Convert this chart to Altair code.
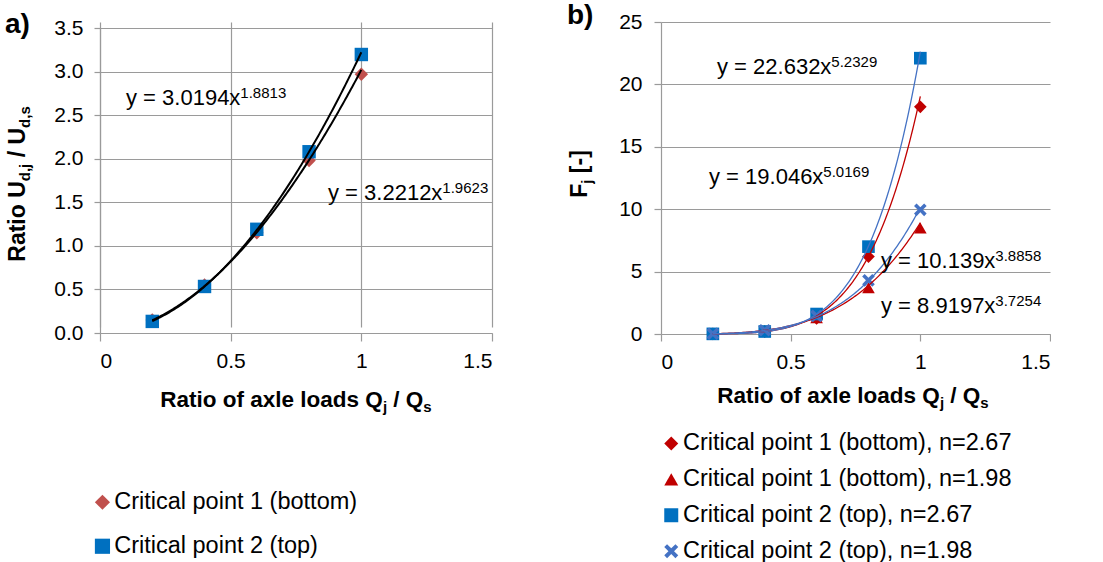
import altair as alt
import pandas as pd

FONT = "Liberation Sans"

# ---------------- data ----------------
x_vals = [0.2, 0.4, 0.6, 0.8, 1.0]

a_series = ["Critical point 1 (bottom)", "Critical point 2 (top)"]
a_cp1 = [0.15, 0.55, 1.15, 1.98, 2.97]
a_cp2 = [0.133, 0.534, 1.19, 2.08, 3.196]
a_fit_coef = [3.0194, 3.2212]
a_fit_exp = [1.8813, 1.9623]
a_colors = ["#C0504D", "#0070C0"]

b_series = [
    "Critical point 1 (bottom), n=2.67",
    "Critical point 1 (bottom), n=1.98",
    "Critical point 2 (top), n=2.67",
    "Critical point 2 (top), n=1.98",
]
b_cp1_267 = [0.01, 0.19, 1.25, 6.2, 18.2]
b_cp1_198 = [0.02, 0.29, 1.3, 3.7, 8.5]
b_cp2_267 = [0.01, 0.2, 1.6, 7.0, 22.1]
b_cp2_198 = [0.02, 0.3, 1.45, 4.3, 9.95]
b_fit_coef = [19.046, 8.9197, 22.632, 10.139]
b_fit_exp = [5.0169, 3.7254, 5.2329, 3.8858]
b_colors = ["#C00000", "#C00000", "#0070C0", "#4472C4"]
b_line_colors = ["#C00000", "#C00000", "#4472C4", "#4472C4"]

a_x_ticks = [0, 0.5, 1, 1.5]
a_y_ticks = [0, 0.5, 1, 1.5, 2, 2.5, 3, 3.5]
b_x_ticks = [0, 0.5, 1, 1.5]
b_y_ticks = [0, 5, 10, 15, 20, 25]

X_PATH = "M-1,-0.6L-0.6,-1L0,-0.4L0.6,-1L1,-0.6L0.4,0L1,0.6L0.6,1L0,0.4L-0.6,1L-1,0.6L-0.4,0Z"

# ---------------- text metrics (Arial / Liberation Sans) ----------------
REG = {' ': 278, '(': 333, ')': 333, ',': 278, '-': 333, '.': 278, '/': 278, '=': 584,
       '[': 278, ']': 278, 'a': 556, 'b': 556, 'c': 500, 'd': 556, 'e': 556, 'f': 278,
       'i': 222, 'j': 222, 'l': 222, 'm': 833, 'n': 556, 'o': 556, 'p': 556, 'r': 333,
       's': 500, 't': 278, 'x': 500, 'y': 500, 'C': 722, 'F': 611, 'Q': 778, 'R': 722, 'U': 722}
BOLD = {' ': 278, '(': 333, ')': 333, ',': 278, '-': 333, '.': 278, '/': 278, '[': 333,
        ']': 333, 'a': 556, 'b': 611, 'd': 611, 'e': 556, 'f': 333, 'i': 278, 'j': 278,
        'l': 278, 'o': 611, 'r': 389, 's': 556, 't': 333, 'x': 556, 'F': 611, 'Q': 778,
        'R': 722, 'U': 722}


def tw(s, size, bold=False):
    tab = BOLD if bold else REG
    return sum(tab.get(c, 556) for c in s) / 1000.0 * size


def T(s, x, y, size, bold=False, angle=0):
    kw = dict(text=s, font=FONT, fontSize=size, fontWeight="bold" if bold else "normal",
              align="left", baseline="alphabetic", color="black")
    if angle:
        kw["angle"] = angle
    return alt.Chart(alt.Data(values=[{"k": 0}])).mark_text(**kw).encode(
        x=alt.value(x), y=alt.value(y))


def htitle(parts, cx, base, size, subsize, drop):
    total = sum(tw(p, subsize if sub else size, True) for p, sub in parts)
    x = cx - total / 2
    out = []
    for p, sub in parts:
        s = subsize if sub else size
        lead = len(p) - len(p.lstrip())
        out.append(T(p.strip(), x + tw(p[:lead], s, True), base + (drop if sub else 0), s, True))
        x += tw(p, s, True)
    return out


def vtitle(parts, bx, cy, size, subsize, drop):
    total = sum(tw(p, subsize if sub else size, True) for p, sub in parts)
    y = cy + total / 2
    out = []
    for p, sub in parts:
        s = subsize if sub else size
        lead = len(p) - len(p.lstrip())
        out.append(T(p.strip(), bx + (drop if sub else 0), y - tw(p[:lead], s, True), s, True, angle=270))
        y -= tw(p, s, True)
    return out


def eq(coef, expo, x, y, size=22, supsize=15, rise=7.5):
    main = f"y = {coef}x"
    return [T(main, x, y, size), T(f"{expo}", x + tw(main, size), y - rise, supsize)]


def curve(coef, expo, xs, ys, color, width):
    return alt.Chart(alt.sequence(0.2, 1.0001, 0.005, as_="x")).transform_calculate(
        y=f"{coef}*pow(datum.x,{expo})"
    ).mark_line(color=color, strokeWidth=width).encode(x=xs, y=ys)


# ---------------- panel a ----------------
OY = 6  # visible plot top offset inside left group
df_a = pd.DataFrame({
    "x": x_vals * 2,
    "y": a_cp1 + a_cp2,
    "series": [a_series[0]] * 5 + [a_series[1]] * 5,
})

xa = alt.X("x:Q", scale=alt.Scale(domain=[0, 1.5], nice=False, zero=False),
           axis=alt.Axis(values=a_x_ticks, format="~g", grid=True, title=None,
                         tickSize=8, labelPadding=9))
ya = alt.Y("y:Q", scale=alt.Scale(domain=[0, 3.5], nice=False, range=[311, OY]),
           axis=alt.Axis(values=a_y_ticks, format=".1f", grid=True, title=None,
                         tickSize=6, labelPadding=11))

leg_a = alt.Legend(orient="none", legendX=-9.3, legendY=462.5 + OY, title=None,
                   labelFont=FONT, labelFontSize=23.5, labelColor="black", labelLimit=600,
                   symbolSize=230, rowPadding=19, padding=0, labelOffset=0,
                   symbolStrokeWidth=0)

pts_a = alt.Chart(df_a).mark_point(filled=True, opacity=1, size=180).encode(
    x=xa, y=ya,
    color=alt.Color("series:N", scale=alt.Scale(domain=a_series, range=a_colors), legend=leg_a),
    shape=alt.Shape("series:N", scale=alt.Scale(domain=a_series, range=["diamond", "square"]),
                    legend=leg_a),
)
curves_a = [curve(c, e, xa, ya, "black", 2) for c, e in zip(a_fit_coef, a_fit_exp)]

texts_a = [T("a)", -95, 5 + OY, 28, True)]
texts_a += eq(a_fit_coef[0], a_fit_exp[0], 26, 77 + OY)
texts_a += eq(a_fit_coef[1], a_fit_exp[1], 228, 172 + OY)
texts_a += htitle([("Ratio of axle loads Q", False), ("j", True), (" / Q", False), ("s", True)],
                  196, 379 + OY, 22.5, 15, 5)
texts_a += vtitle([("Ratio U", False), ("d,j", True), (" / U", False), ("d,s", True)],
                  -75, 156 + OY, 23, 15, 5)

left = alt.layer(pts_a, *curves_a, *texts_a).properties(width=392, height=311)

# ---------------- panel b ----------------
df_b = pd.DataFrame({
    "x": x_vals * 4,
    "y": b_cp1_267 + b_cp1_198 + b_cp2_267 + b_cp2_198,
    "series": sum([[s] * 5 for s in b_series], []),
})

xb = alt.X("x:Q", scale=alt.Scale(domain=[0, 1.5], nice=False, zero=False),
           axis=alt.Axis(values=b_x_ticks, format="~g", grid=False, title=None,
                         tickSize=7, labelPadding=10))
yb = alt.Y("y:Q", scale=alt.Scale(domain=[0, 25], nice=False),
           axis=alt.Axis(values=b_y_ticks, format="d", grid=True, title=None,
                         tickSize=7, labelPadding=12))

leg_b = alt.Legend(orient="none", legendX=-1.5, legendY=409.7, title=None,
                   labelFont=FONT, labelFontSize=23.5, labelColor="black", labelLimit=600,
                   symbolSize=196, rowPadding=10.9, padding=0, labelOffset=0,
                   symbolStrokeWidth=0)

pts_b = alt.Chart(df_b).mark_point(filled=True, opacity=1, size=160).encode(
    x=xb, y=yb,
    color=alt.Color("series:N", scale=alt.Scale(domain=b_series, range=b_colors), legend=leg_b),
    shape=alt.Shape("series:N", scale=alt.Scale(domain=b_series,
                                                range=["diamond", "triangle-up", "square", X_PATH]),
                    legend=leg_b),
)
curves_b = [curve(c, e, xb, yb, col, 1.3)
            for c, e, col in zip(b_fit_coef, b_fit_exp, b_line_colors)]

texts_b = [T("b)", -94, 2, 28, True)]
texts_b += eq(b_fit_coef[2], b_fit_exp[2], 56, 52)
texts_b += eq(b_fit_coef[0], b_fit_exp[0], 48, 162)
texts_b += eq(b_fit_coef[3], b_fit_exp[3], 220, 246)
texts_b += eq(b_fit_coef[1], b_fit_exp[1], 220, 291)
texts_b += htitle([("Ratio of axle loads Q", False), ("j", True), (" / Q", False), ("s", True)],
                  192, 381, 22.5, 15, 5)
texts_b += vtitle([("F", False), ("j", True), (" [-]", False)], -74, 152, 23, 15, 5)

right = alt.layer(pts_b, *curves_b, *texts_b).properties(width=389, height=312)

chart = alt.hconcat(left, right, spacing=74).resolve_scale(
    x="independent", y="independent", color="independent", shape="independent"
).resolve_legend(color="independent", shape="independent").properties(
    padding={"left": 5, "top": 2, "right": 0, "bottom": 0}
).configure_view(stroke=None).configure_axis(
    labelFont=FONT, labelFontSize=21, labelColor="black",
    gridColor="#9a9a9a", gridWidth=1.2, domainColor="#9a9a9a", domainWidth=1.2,
    tickColor="#9a9a9a", tickWidth=1.2,
)

chart.save("out.html", embed_options={"renderer": "svg", "actions": False})
